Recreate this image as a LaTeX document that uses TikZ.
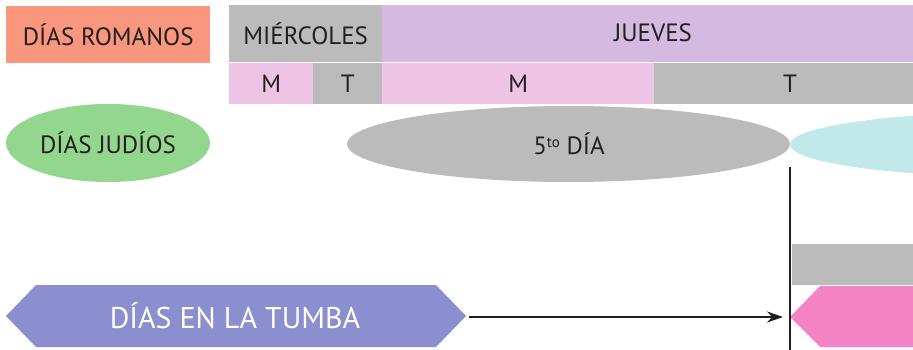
\documentclass[tikz,border=0pt]{standalone}
\usepackage{fontspec}
\setmainfont{PT Sans}
\usetikzlibrary{arrows.meta}
\definecolor{salmon}{HTML}{F9967E}
\definecolor{grayc}{HTML}{BBBBBB}
\definecolor{lilac}{HTML}{D5B9E0}
\definecolor{pinkc}{HTML}{EDC3E6}
\definecolor{greenc}{HTML}{93D78F}
\definecolor{cyanc}{HTML}{C2E9EA}
\definecolor{violetc}{HTML}{8B8ECF}
\definecolor{magc}{HTML}{F483C6}
\definecolor{ink}{HTML}{231F20}
\tikzset{
  lbl/.style={font=\fontsize{25}{28}\selectfont, text=ink, inner sep=0pt},
  cell/.style={draw=none, inner sep=0pt, anchor=north west},
  conn/.style={draw=ink, line width=2.6pt},
}
\begin{document}
\begin{tikzpicture}[x=1pt,y=-1pt]
\useasboundingbox (0,0) rectangle (913,350);
\clip (0,0) rectangle (913,350);
% top row
\node[cell, fill=salmon, minimum width=204pt, minimum height=57pt] (rom) at (6,6) {};
\node[lbl] at (rom.center) {DÍAS ROMANOS};
\node[cell, fill=grayc, minimum width=153pt, minimum height=57pt] (mie) at (229,5) {};
\node[lbl] at (mie.center) {MIÉRCOLES};
\node[cell, fill=lilac, minimum width=540pt, minimum height=57pt] (jue) at (382,5) {};
\node[lbl] at (653,33) {JUEVES};
% second row
\node[cell, fill=pinkc, minimum width=84pt, minimum height=41pt] (m1) at (229,63) {};
\node[lbl] at (m1.center) {M};
\node[cell, fill=grayc, minimum width=69pt, minimum height=41pt] (t1) at (313,63) {};
\node[lbl] at (t1.center) {T};
\node[cell, fill=pinkc, minimum width=272pt, minimum height=41pt] (m2) at (382,63) {};
\node[lbl] at (m2.center) {M};
\node[cell, fill=grayc, minimum width=270pt, minimum height=41pt] (t2) at (654,63) {};
\node[lbl] at (790,84) {T};
% ellipses
\fill[greenc] (108,143) ellipse [x radius=102, y radius=39];
\node[lbl] (jud) at (108,143) {DÍAS JUDÍOS};
\fill[grayc] (568.5,144) ellipse [x radius=221.5, y radius=38];
\node[lbl] (dia5) at (569,144) {5\raisebox{0.6ex}{\fontsize{15}{16}\selectfont to} DÍA};
\fill[cyanc] (1011.5,144.5) ellipse [x radius=221.5, y radius=32];
% gray bar
\fill[grayc] (792,244) rectangle (913,285);
% purple hexagon
\fill[violetc] (6,316) -- (36,285) -- (436,285) -- (466,316) -- (436,347) -- (36,347) -- cycle;
\node[lbl, text=white, font=\fontsize{30}{34}\selectfont] (tumba) at (235,316) {DÍAS EN LA TUMBA};
\coordinate (tumbaE) at (469,317);
% pink hexagon
\fill[magc] (790,317) -- (820,286) -- (920,286) -- (920,347) -- (820,347) -- cycle;
\coordinate (pinkW) at (783,317);
% line and arrow
\coordinate (vtop) at (790,167);
\coordinate (vbot) at (790,352);
\draw[conn] (vtop) -- (vbot);
\draw[conn, -{Stealth[length=16pt, width=11pt]}] (tumbaE) -- (pinkW);
\end{tikzpicture}
\end{document}
